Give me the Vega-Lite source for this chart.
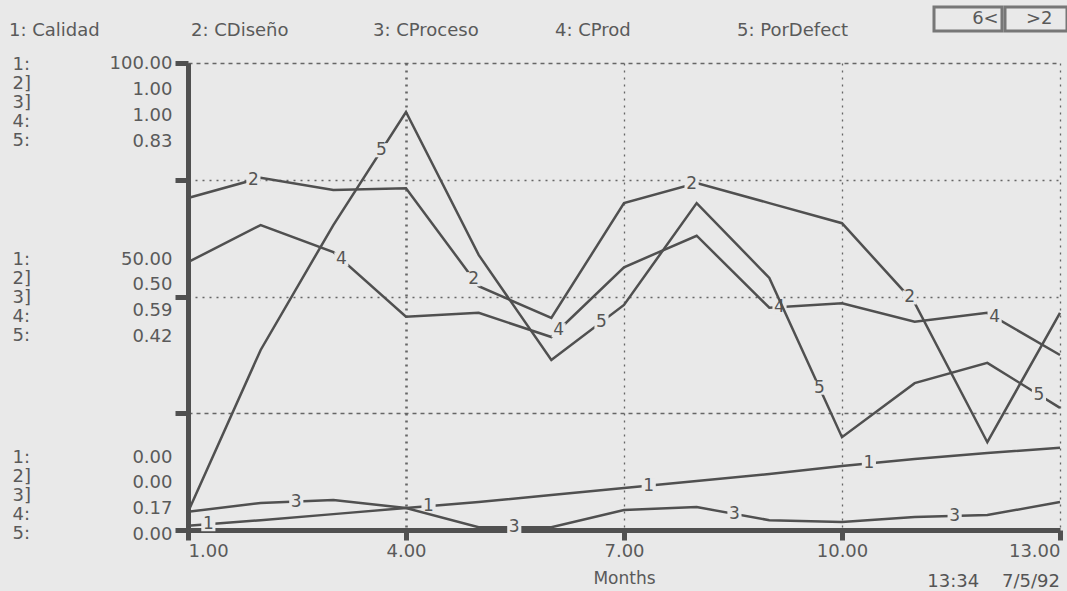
{
  "$schema": "https://vega.github.io/schema/vega-lite/v6.json",
  "width": 872,
  "height": 467,
  "autosize": "none",
  "padding": {"left": 188, "top": 63, "right": 7, "bottom": 61},
  "background": "#e9e9e9",
  "title": {"text": "13:34\u00a0\u00a0\u00a0\u00a07/5/92", "orient": "bottom", "anchor": "end", "frame": "group", "offset": -13, "fontSize": 18, "fontWeight": "normal", "color": "#555", "font": "DejaVu Sans"},
  "datasets": {
    "series": [
      {"serie": "1: Calidad", "month": 1, "value": 0.9},
      {"serie": "1: Calidad", "month": 2, "value": 2.1},
      {"serie": "1: Calidad", "month": 3, "value": 3.4},
      {"serie": "1: Calidad", "month": 4, "value": 4.7},
      {"serie": "1: Calidad", "month": 5, "value": 6.0},
      {"serie": "1: Calidad", "month": 6, "value": 7.5},
      {"serie": "1: Calidad", "month": 7, "value": 9.0},
      {"serie": "1: Calidad", "month": 8, "value": 10.5},
      {"serie": "1: Calidad", "month": 9, "value": 12.0},
      {"serie": "1: Calidad", "month": 10, "value": 13.7},
      {"serie": "1: Calidad", "month": 11, "value": 15.2},
      {"serie": "1: Calidad", "month": 12, "value": 16.5},
      {"serie": "1: Calidad", "month": 13, "value": 17.6},
      {"serie": "2: CDiseño", "month": 1, "value": 0.711},
      {"serie": "2: CDiseño", "month": 2, "value": 0.754},
      {"serie": "2: CDiseño", "month": 3, "value": 0.728},
      {"serie": "2: CDiseño", "month": 4, "value": 0.732},
      {"serie": "2: CDiseño", "month": 5, "value": 0.522},
      {"serie": "2: CDiseño", "month": 6, "value": 0.454},
      {"serie": "2: CDiseño", "month": 7, "value": 0.700},
      {"serie": "2: CDiseño", "month": 8, "value": 0.743},
      {"serie": "2: CDiseño", "month": 9, "value": 0.700},
      {"serie": "2: CDiseño", "month": 10, "value": 0.657},
      {"serie": "2: CDiseño", "month": 11, "value": 0.486},
      {"serie": "2: CDiseño", "month": 12, "value": 0.188},
      {"serie": "2: CDiseño", "month": 13, "value": 0.465},
      {"serie": "3: CProceso", "month": 1, "value": 0.039},
      {"serie": "3: CProceso", "month": 2, "value": 0.058},
      {"serie": "3: CProceso", "month": 3, "value": 0.064},
      {"serie": "3: CProceso", "month": 4, "value": 0.047},
      {"serie": "3: CProceso", "month": 5, "value": 0.006},
      {"serie": "3: CProceso", "month": 6, "value": 0.006},
      {"serie": "3: CProceso", "month": 7, "value": 0.043},
      {"serie": "3: CProceso", "month": 8, "value": 0.049},
      {"serie": "3: CProceso", "month": 9, "value": 0.021},
      {"serie": "3: CProceso", "month": 10, "value": 0.017},
      {"serie": "3: CProceso", "month": 11, "value": 0.028},
      {"serie": "3: CProceso", "month": 12, "value": 0.032},
      {"serie": "3: CProceso", "month": 13, "value": 0.060},
      {"serie": "4: CProd", "month": 1, "value": 0.646},
      {"serie": "4: CProd", "month": 2, "value": 0.712},
      {"serie": "4: CProd", "month": 3, "value": 0.664},
      {"serie": "4: CProd", "month": 4, "value": 0.549},
      {"serie": "4: CProd", "month": 5, "value": 0.556},
      {"serie": "4: CProd", "month": 6, "value": 0.513},
      {"serie": "4: CProd", "month": 7, "value": 0.637},
      {"serie": "4: CProd", "month": 8, "value": 0.693},
      {"serie": "4: CProd", "month": 9, "value": 0.565},
      {"serie": "4: CProd", "month": 10, "value": 0.573},
      {"serie": "4: CProd", "month": 11, "value": 0.540},
      {"serie": "4: CProd", "month": 12, "value": 0.556},
      {"serie": "4: CProd", "month": 13, "value": 0.481},
      {"serie": "5: PorDefect", "month": 1, "value": 0.032},
      {"serie": "5: PorDefect", "month": 2, "value": 0.320},
      {"serie": "5: PorDefect", "month": 3, "value": 0.542},
      {"serie": "5: PorDefect", "month": 4, "value": 0.743},
      {"serie": "5: PorDefect", "month": 5, "value": 0.489},
      {"serie": "5: PorDefect", "month": 6, "value": 0.302},
      {"serie": "5: PorDefect", "month": 7, "value": 0.400},
      {"serie": "5: PorDefect", "month": 8, "value": 0.581},
      {"serie": "5: PorDefect", "month": 9, "value": 0.448},
      {"serie": "5: PorDefect", "month": 10, "value": 0.165},
      {"serie": "5: PorDefect", "month": 11, "value": 0.261},
      {"serie": "5: PorDefect", "month": 12, "value": 0.297},
      {"serie": "5: PorDefect", "month": 13, "value": 0.217}
    ],
    "labels": [
      {"serie": "1: Calidad", "lab": "1", "month": 1.28, "value": 1.25},
      {"serie": "1: Calidad", "lab": "1", "month": 4.31, "value": 5.1},
      {"serie": "1: Calidad", "lab": "1", "month": 7.34, "value": 9.5},
      {"serie": "1: Calidad", "lab": "1", "month": 10.37, "value": 14.25},
      {"serie": "2: CDiseño", "lab": "2", "month": 1.9, "value": 0.750},
      {"serie": "2: CDiseño", "lab": "2", "month": 4.93, "value": 0.537},
      {"serie": "2: CDiseño", "lab": "2", "month": 7.93, "value": 0.740},
      {"serie": "2: CDiseño", "lab": "2", "month": 10.93, "value": 0.498},
      {"serie": "3: CProceso", "lab": "3", "month": 2.49, "value": 0.061},
      {"serie": "3: CProceso", "lab": "3", "month": 5.49, "value": 0.006},
      {"serie": "3: CProceso", "lab": "3", "month": 8.52, "value": 0.034},
      {"serie": "3: CProceso", "lab": "3", "month": 11.55, "value": 0.030},
      {"serie": "4: CProd", "lab": "4", "month": 3.11, "value": 0.651},
      {"serie": "4: CProd", "lab": "4", "month": 6.1, "value": 0.525},
      {"serie": "4: CProd", "lab": "4", "month": 9.14, "value": 0.566},
      {"serie": "4: CProd", "lab": "4", "month": 12.1, "value": 0.549},
      {"serie": "5: PorDefect", "lab": "5", "month": 3.66, "value": 0.675},
      {"serie": "5: PorDefect", "lab": "5", "month": 6.69, "value": 0.370},
      {"serie": "5: PorDefect", "lab": "5", "month": 9.69, "value": 0.253},
      {"serie": "5: PorDefect", "lab": "5", "month": 12.71, "value": 0.240}
    ]
  },
  "config": {
    "view": {"stroke": null},
    "font": "DejaVu Sans",
    "axis": {
      "labelFont": "DejaVu Sans", "labelFontSize": 18, "labelColor": "#5a5a5a",
      "domainColor": "#505050", "domainWidth": 5,
      "tickColor": "#505050", "tickWidth": 5,
      "gridColor": "#666", "gridDash": [2, 5], "gridWidth": 1.3,
      "titleFont": "DejaVu Sans", "titleFontSize": 17, "titleColor": "#5a5a5a", "titleFontWeight": "normal"
    },
    "legend": {"labelFont": "DejaVu Sans", "labelFontSize": 18, "labelColor": "#5a5a5a", "strokeWidth": 3}
  },
  "layer": [
    {
      "encoding": {
        "x": {"field": "month", "type": "quantitative", "scale": {"domain": [1, 13], "nice": false},
              "axis": {"values": [1, 4, 7, 10, 13], "format": ".2f", "title": "Months", "grid": true, "tickSize": 10, "labelPadding": 2, "titlePadding": 10,
                       "gridWidth": {"condition": {"test": "datum.value == 4", "value": 2.6}, "value": 1.3}}},
        "y": {"field": "value", "type": "quantitative", "scale": {"domain": [0, 100], "nice": false, "zero": false},
              "axis": {"orient": "left", "values": [0, 25, 50, 75, 100], "title": null, "grid": true, "tickSize": 13, "labels": false,
                       "gridDash": {"condition": {"test": "datum.value == 25 || datum.value == 100", "value": [4, 4]}, "value": [2, 5]}}}
      },
      "layer": [
        {"data": {"name": "series"}, "transform": [{"filter": "datum.serie == '1: Calidad'"}],
         "mark": {"type": "line", "strokeWidth": 2.5},
         "encoding": {"color": {"field": "serie", "type": "nominal",
            "scale": {"domain": ["1: Calidad", "2: CDiseño", "3: CProceso", "4: CProd", "5: PorDefect"], "range": ["#505050", "#505050", "#505050", "#505050", "#505050"]},
            "legend": {"orient": "none", "legendX": -197, "legendY": -41, "direction": "horizontal", "columns": 5, "title": null,
                       "symbolSize": 0, "symbolStrokeWidth": 0, "labelOffset": 0, "columnPadding": 52, "gridAlign": "all"}}}},
        {"data": {"name": "labels"}, "transform": [{"filter": "datum.serie == '1: Calidad'"}],
         "mark": {"type": "point", "shape": "square", "size": 200, "filled": true, "opacity": 1},
         "encoding": {"fill": {"datum": "6<", "scale": {"range": ["#e9e9e9"]},
            "legend": {"orient": "none", "legendX": 746, "legendY": -56, "title": null, "symbolSize": 0, "labelOffset": 0, "strokeColor": "#777", "padding": 3, "labelFontSize": 18,
                       "labelExpr": "'\u200b\u00a0\u00a0\u00a0' + datum.label"}}}},
        {"data": {"name": "labels"}, "transform": [{"filter": "datum.serie == '1: Calidad'"}],
         "mark": {"type": "text", "fontSize": 17, "color": "#555", "strokeWidth": 0},
         "encoding": {"text": {"field": "lab"}, "stroke": {"datum": ">2", "scale": {"range": ["#555"]},
            "legend": {"orient": "none", "legendX": 817, "legendY": -56, "title": null, "symbolSize": 0, "labelOffset": 0, "strokeColor": "#777", "padding": 3, "labelFontSize": 18,
                       "labelExpr": "datum.label + '\u00a0\u00a0\u200b'"}}}}
      ]
    },
    {
      "encoding": {
        "x": {"field": "month", "type": "quantitative", "scale": {"domain": [1, 13], "nice": false},
              "axis": {"values": [1, 4, 7, 10, 13], "format": ".2f", "title": "Months", "grid": true, "tickSize": 10, "labelPadding": 2, "titlePadding": 10,
                       "gridWidth": {"condition": {"test": "datum.value == 4", "value": 2.6}, "value": 1.3}}},
        "y": {"field": "value", "type": "quantitative", "scale": {"domain": [0, 1], "nice": false, "zero": false},
              "axis": {"orient": "left", "values": [0.156, 0.58, 0.998], "title": null, "grid": false, "ticks": false, "domain": false,
                       "labelPadding": 16, "labelBaseline": "middle", "labelFlush": false, "labelOverlap": false, "labelLineHeight": 25.8,
                       "labelExpr": "datum.value > 0.9 ? ['100.00','1.00','1.00','0.83'] : datum.value > 0.5 ? ['50.00','0.50','0.59','0.42'] : ['0.00','0.00','0.17','0.00']"}}
      },
      "layer": [
        {"data": {"name": "series"}, "transform": [{"filter": "datum.serie == '2: CDiseño' || datum.serie == '3: CProceso'"}],
         "mark": {"type": "line", "strokeWidth": 2.5},
         "encoding": {"color": {"field": "serie", "type": "nominal"}}},
        {"data": {"name": "labels"}, "transform": [{"filter": "datum.serie == '2: CDiseño' || datum.serie == '3: CProceso'"}],
         "mark": {"type": "point", "shape": "square", "size": 200, "filled": true, "opacity": 1},
         "encoding": {"fill": {"datum": "6<"}}},
        {"data": {"name": "labels"}, "transform": [{"filter": "datum.serie == '2: CDiseño' || datum.serie == '3: CProceso'"}],
         "mark": {"type": "text", "fontSize": 17, "color": "#555", "strokeWidth": 0},
         "encoding": {"text": {"field": "lab"}, "stroke": {"datum": ">2"}}}
      ]
    },
    {
      "encoding": {
        "x": {"field": "month", "type": "quantitative", "scale": {"domain": [1, 13], "nice": false},
              "axis": {"values": [1, 4, 7, 10, 13], "format": ".2f", "title": "Months", "grid": true, "tickSize": 10, "labelPadding": 2, "titlePadding": 10,
                       "gridWidth": {"condition": {"test": "datum.value == 4", "value": 2.6}, "value": 1.3}}},
        "y": {"field": "value", "type": "quantitative", "scale": {"domain": [0.17, 1.0], "nice": false, "zero": false}, "axis": null}
      },
      "layer": [
        {"data": {"name": "series"}, "transform": [{"filter": "datum.serie == '4: CProd'"}],
         "mark": {"type": "line", "strokeWidth": 2.5},
         "encoding": {"color": {"field": "serie", "type": "nominal"}}},
        {"data": {"name": "labels"}, "transform": [{"filter": "datum.serie == '4: CProd'"}],
         "mark": {"type": "point", "shape": "square", "size": 200, "filled": true, "opacity": 1},
         "encoding": {"fill": {"datum": "6<"}}},
        {"data": {"name": "labels"}, "transform": [{"filter": "datum.serie == '4: CProd'"}],
         "mark": {"type": "text", "fontSize": 17, "color": "#555", "strokeWidth": 0},
         "encoding": {"text": {"field": "lab"}, "stroke": {"datum": ">2"}}}
      ]
    },
    {
      "encoding": {
        "x": {"field": "month", "type": "quantitative", "scale": {"domain": [1, 13], "nice": false},
              "axis": {"values": [1, 4, 7, 10, 13], "format": ".2f", "title": "Months", "grid": true, "tickSize": 10, "labelPadding": 2, "titlePadding": 10,
                       "gridWidth": {"condition": {"test": "datum.value == 4", "value": 2.6}, "value": 1.3}}},
        "y": {"field": "value", "type": "quantitative", "scale": {"domain": [0, 0.83], "nice": false, "zero": false},
              "axis": {"orient": "left", "values": [0.129, 0.481, 0.828], "title": null, "grid": false, "ticks": false, "domain": false,
                       "offset": 176, "labelAlign": "left", "labelPadding": 0, "labelBaseline": "middle", "labelFlush": false, "labelOverlap": false,
                       "labelLineHeight": 19, "labelExpr": "['1:','2]','3]','4:','5:']"}}
      },
      "layer": [
        {"data": {"name": "series"}, "transform": [{"filter": "datum.serie == '5: PorDefect'"}],
         "mark": {"type": "line", "strokeWidth": 2.5},
         "encoding": {"color": {"field": "serie", "type": "nominal"}}},
        {"data": {"name": "labels"}, "transform": [{"filter": "datum.serie == '5: PorDefect'"}],
         "mark": {"type": "point", "shape": "square", "size": 200, "filled": true, "opacity": 1},
         "encoding": {"fill": {"datum": "6<"}}},
        {"data": {"name": "labels"}, "transform": [{"filter": "datum.serie == '5: PorDefect'"}],
         "mark": {"type": "text", "fontSize": 17, "color": "#555", "strokeWidth": 0},
         "encoding": {"text": {"field": "lab"}, "stroke": {"datum": ">2"}}}
      ]
    }
  ],
  "resolve": {"scale": {"y": "independent"}}
}
